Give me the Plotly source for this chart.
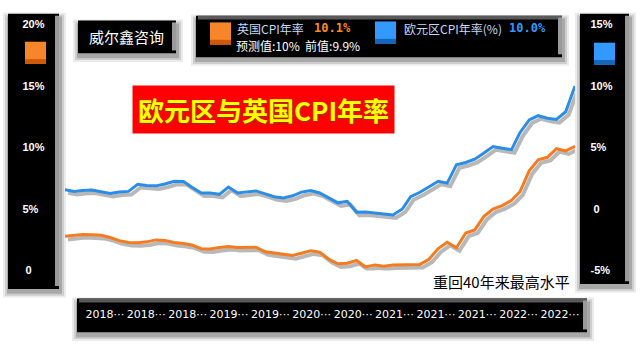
import plotly.graph_objects as go
import pandas as pd

W, H = 640, 348

# ---------------- data ----------------
months = pd.date_range("2018-01-01", periods=57, freq="MS")

uk_cpi = [2.78, 2.84, 2.93, 2.90, 2.86, 2.68, 2.43, 2.28, 2.26, 2.33,
          2.49, 2.45, 2.28, 2.20, 2.07, 1.78, 1.76, 1.87, 1.95, 1.88,
          1.90, 1.90, 1.52, 1.44, 1.35, 1.22, 1.40, 1.60, 1.50, 0.90,
          0.55, 0.60, 0.82, 0.30, 0.45, 0.35, 0.45, 0.45, 0.45, 0.50,
          0.92, 1.78, 2.30, 1.85, 3.05, 3.30, 4.40, 5.00, 5.27, 5.70,
          6.40, 8.10, 9.00, 9.20, 9.90, 9.72, 10.10]

ez_cpi = [1.57, 1.42, 1.50, 1.54, 1.40, 1.26, 1.38, 1.43, 2.00, 1.91,
          1.88, 2.03, 2.25, 2.23, 1.77, 1.30, 1.30, 1.19, 1.78, 1.30,
          1.39, 1.47, 1.23, 1.00, 0.90, 1.07, 1.37, 1.50, 1.30, 0.86,
          0.50, 0.62, -0.27, -0.24, -0.31, -0.37, -0.48, 0.00, 1.00, 1.36,
          1.78, 2.25, 2.10, 3.60, 3.78, 4.05, 4.55, 5.07, 4.94, 4.82,
          6.20, 7.24, 7.58, 7.37, 7.27, 7.90, 10.00]

x_tick_labels = ["2018⋯", "2018⋯", "2018⋯", "2019⋯", "2019⋯", "2020⋯",
                 "2020⋯", "2021⋯", "2021⋯", "2021⋯", "2022⋯", "2022⋯"]
left_ticks = [0, 5, 10, 15, 20]
left_tick_text = ["0", "5%", "10%", "15%", "20%"]
right_ticks = [-5, 0, 5, 10, 15]
right_tick_text = ["-5%", "0", "5%", "10%", "15%"]

uk_name = "英国CPI年率"
ez_name = "欧元区CPI年率(%)"
uk_latest = "10.1%"
ez_latest = "10.0%"
uk_extra = "预测值:10%  前值:9.9%"
title_text = "欧元区与英国CPI年率"
brand_text = "威尔鑫咨询"
note_text = "重回40年来最高水平"

ORANGE = "#f47b20"
BLUE = "#2b8de8"
CJK = "Noto Sans CJK SC"


def px(x):
    return x / W


def py(y):
    return 1 - y / H


def pad_zero(labels):
    # the lone "0" sits slightly inset in the reference panels
    return [("\u00a0" + t) if t == "0" else t for t in labels]


shapes = []


def panel(x0, y0, x1, y1, bevel_right=True, bevel_top=False):
    # soft drop shadow
    for grow, alpha in ((6, 0.08), (4, 0.12), (2, 0.18)):
        shapes.append(dict(type="rect", xref="paper", yref="paper", layer="below",
                           x0=px(x0 - grow + 1), x1=px(x1 + grow + 1),
                           y0=py(y1 + grow + 3), y1=py(y0 - grow + 5),
                           line=dict(width=0), fillcolor=f"rgba(0,0,0,{alpha})"))
    shapes.append(dict(type="rect", xref="paper", yref="paper", layer="below",
                       x0=px(x0), x1=px(x1), y0=py(y1), y1=py(y0),
                       line=dict(width=0), fillcolor="#000000"))
    if bevel_top:
        shapes.append(dict(type="rect", xref="paper", yref="paper", layer="below",
                           x0=px(x0 + 2), x1=px(x1), y0=py(y0 + 4), y1=py(y0),
                           line=dict(width=0), fillcolor="#5a5a5a"))
    if bevel_right:
        shapes.append(dict(type="rect", xref="paper", yref="paper", layer="below",
                           x0=px(x1 - 4), x1=px(x1), y0=py(y1 - 3), y1=py(y0 + 2),
                           line=dict(width=0), fillcolor="#9a9a9a"))


panel(8, 8, 59, 293)            # left axis panel
panel(580, 8, 629, 288)         # right axis panel
panel(78, 15, 176, 49)          # brand box
panel(196, 10, 562, 53, bevel_top=True)   # legend box
panel(77, 303, 587, 338, bevel_top=True)  # x label box


def swatch(x0, y0, color, dark):
    shapes.append(dict(type="rect", xref="paper", yref="paper", layer="above",
                       x0=px(x0), x1=px(x0 + 21), y0=py(y0 + 23), y1=py(y0),
                       line=dict(width=0), fillcolor=color))
    shapes.append(dict(type="rect", xref="paper", yref="paper", layer="above",
                       x0=px(x0), x1=px(x0 + 21), y0=py(y0 + 23), y1=py(y0 + 18),
                       line=dict(width=0), fillcolor=dark))


swatch(25, 37, "#f7862a", "#cc5a0c")
swatch(594, 38, "#3399ff", "#1565b8")
swatch(210, 17, "#f7862a", "#cc5a0c")
swatch(375, 16, "#3399ff", "#1565b8")

fig = go.Figure()

shift = pd.Timedelta(days=10)
fig.add_trace(go.Scatter(x=months + shift, y=[v - 0.25 for v in uk_cpi], yaxis="y",
                         mode="lines", line=dict(color="rgba(0,0,0,0.28)", width=4),
                         hoverinfo="skip", showlegend=False))
fig.add_trace(go.Scatter(x=months + shift, y=[v - 0.25 for v in ez_cpi], yaxis="y2",
                         mode="lines", line=dict(color="rgba(0,0,0,0.28)", width=4),
                         hoverinfo="skip", showlegend=False))
fig.add_trace(go.Scatter(x=months, y=uk_cpi, yaxis="y", name=uk_name,
                         mode="lines", line=dict(color=ORANGE, width=3),
                         showlegend=False))
fig.add_trace(go.Scatter(x=months, y=ez_cpi, yaxis="y2", name=ez_name,
                         mode="lines", line=dict(color=BLUE, width=3),
                         showlegend=False))
# carrier for the category-label axis in the bottom box
fig.add_trace(go.Scatter(x=[0], y=[0], xaxis="x2", yaxis="y3", mode="markers",
                         marker=dict(opacity=0), hoverinfo="skip", showlegend=False))

tickfont = dict(family="Liberation Sans", size=11, color="white", weight="bold")

annotations = [
    dict(text=title_text, x=px(263), y=py(107), xref="paper", yref="paper",
         showarrow=False, xanchor="center", yanchor="middle",
         font=dict(family=CJK, size=26, color="#ffff00", weight="bold",
                   shadow="1px 1px 1px #8a3a00"),
         bgcolor="#ff0000", borderpad=5),
    dict(text=brand_text, x=px(126), y=py(32), xref="paper", yref="paper",
         showarrow=False, xanchor="center", yanchor="middle",
         font=dict(family=CJK, size=15, color="white")),
    dict(text=uk_name, x=px(235), y=py(23), xref="paper", yref="paper",
         showarrow=False, xanchor="left", yanchor="middle",
         font=dict(family=CJK, size=12, color="#c8d8f4")),
    dict(text=uk_latest, x=px(312), y=py(23), xref="paper", yref="paper",
         showarrow=False, xanchor="left", yanchor="middle",
         font=dict(family="DejaVu Sans Mono", size=12, color="#ff8c1a", weight="bold")),
    dict(text=uk_extra, x=px(234), y=py(41), xref="paper", yref="paper",
         showarrow=False, xanchor="left", yanchor="middle",
         font=dict(family=CJK, size=12, color="white")),
    dict(text=ez_name, x=px(402), y=py(23), xref="paper", yref="paper",
         showarrow=False, xanchor="left", yanchor="middle",
         font=dict(family=CJK, size=12, color="#c8d8f4")),
    dict(text=ez_latest, x=px(507), y=py(23), xref="paper", yref="paper",
         showarrow=False, xanchor="left", yanchor="middle",
         font=dict(family="DejaVu Sans Mono", size=12, color="#3399ff", weight="bold")),
    dict(text=note_text, x=px(431), y=py(285), xref="paper", yref="paper",
         showarrow=False, xanchor="left", yanchor="middle",
         font=dict(family=CJK, size=15, color="black")),
]

fig.update_layout(
    width=W, height=H,
    margin=dict(l=0, r=0, t=0, b=0),
    paper_bgcolor="white", plot_bgcolor="rgba(0,0,0,0)",
    showlegend=False,
    shapes=shapes,
    annotations=annotations,
    xaxis=dict(domain=[px(65), px(575)], range=[months[0], months[-1]],
               visible=False, showgrid=False, zeroline=False),
    yaxis=dict(domain=[py(274), py(19)], range=[0, 20],
               tickvals=left_ticks, ticktext=pad_zero(left_tick_text), tickfont=tickfont,
               anchor="free", position=px(21.5), side="right",
               showgrid=False, zeroline=False, showline=False, ticks=""),
    yaxis2=dict(domain=[py(274), py(19)], range=[-5, 15], overlaying="y",
                tickvals=right_ticks, ticktext=pad_zero(right_tick_text), tickfont=tickfont,
                anchor="free", position=px(589.5), side="right",
                showgrid=False, zeroline=False, showline=False, ticks=""),
    xaxis2=dict(domain=[0.1317, 0.9073], range=[-0.5, 11.5], anchor="y3",
                tickvals=list(range(len(x_tick_labels))), ticktext=x_tick_labels,
                tickfont=dict(family="DejaVu Sans", size=11, color="white"),
                showgrid=False, zeroline=False, showline=False, ticks=""),
    yaxis3=dict(domain=[py(311), py(306)], range=[-1, 1], anchor="x2",
                visible=False),
)

fig.write_html("out.html")
